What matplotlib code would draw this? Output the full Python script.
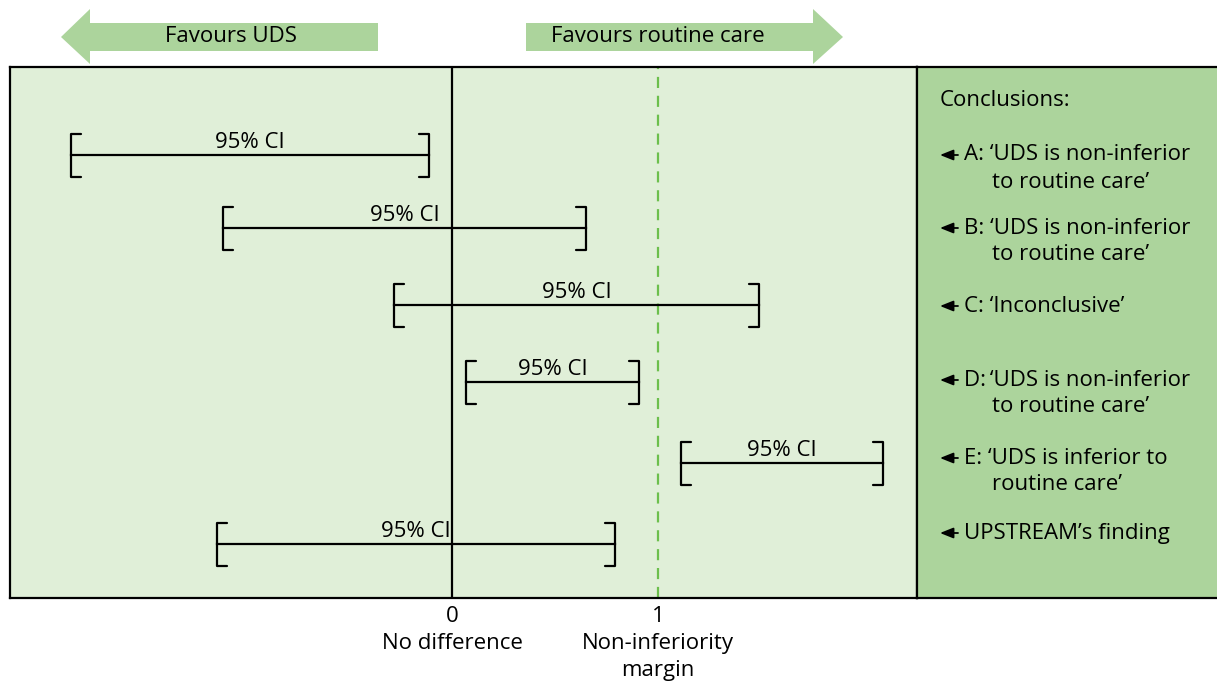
import matplotlib
matplotlib.use("Agg")
import matplotlib.pyplot as plt
from matplotlib.patches import Polygon

plt.rcParams['font.family'] = ['Open Sans', 'DejaVu Sans']

# Confidence intervals (difference UDS - routine care, in units of the margin)
ci_names = ["A", "B", "C", "D", "E", "UPSTREAM"]
ci_lower = [-1.85, -1.11, -0.28, 0.07, 1.11, -1.14]
ci_upper = [-0.11, 0.65, 1.49, 0.91, 2.09, 0.79]
ci_label = "95% CI"

# Conclusions listed beside each interval
conclusion_lines = [
    ["A: \u2018UDS is non-inferior", "to routine care\u2019"],
    ["B: \u2018UDS is non-inferior", "to routine care\u2019"],
    ["C: \u2018Inconclusive\u2019"],
    ["D:\u2009\u2018UDS is non-inferior", "to routine care\u2019"],
    ["E: \u2018UDS is inferior to", "routine care\u2019"],
    ["UPSTREAM\u2019s finding"],
]
tick_values = [0, 1]
tick_texts = ["0\nNo difference", "1\nNon-inferiority\nmargin"]

# Layout (figure pixels from the top)
W, H = 1217, 684
row_y = [155, 228, 305, 382, 463, 544]
concl_y = [155, 228, 306, 380, 458, 533]
panel_top, panel_bot = 67, 598
left_x, div_x = 10, 917
x0_px, x1_px = 452, 658

light = "#e0efd8"
mid = "#acd49c"
dash_green = "#6cbf4c"
fs = 16

fig = plt.figure(figsize=(W / 100, H / 100), dpi=100)

def fig_rect(x_a, x_b, y_top, y_bot):
    return [x_a / W, 1 - y_bot / H, (x_b - x_a) / W, (y_bot - y_top) / H]

ax = fig.add_axes(fig_rect(left_x, div_x, panel_top, panel_bot))
ax.set_facecolor(light)
scale = x1_px - x0_px
ax.set_xlim((left_x - x0_px) / scale, (div_x - x0_px) / scale)
ax.set_ylim(panel_bot, panel_top)
for s in ax.spines.values():
    s.set_linewidth(1.6)
    s.set_color("black")
ax.set_yticks([])
ax.set_xticks(tick_values)
ax.set_xticklabels(tick_texts, fontsize=fs, linespacing=1.38, va="top")
ax.tick_params(axis="x", length=0, pad=6)

ax.axvline(0, color="black", lw=1.6, zorder=2)
ax.axvline(1, color=dash_green, lw=1.6, dashes=(5, 3.5), zorder=2)

half_h = 21.5
serif = 10 / scale
for lo, hi, y in zip(ci_lower, ci_upper, row_y):
    ax.plot([lo, hi], [y, y], color="black", lw=1.6, zorder=3)
    ax.plot([lo + serif, lo, lo, lo + serif],
            [y - half_h, y - half_h, y + half_h, y + half_h],
            color="black", lw=1.6, solid_joinstyle="round",
            solid_capstyle="round", zorder=3)
    ax.plot([hi - serif, hi, hi, hi - serif],
            [y - half_h, y - half_h, y + half_h, y + half_h],
            color="black", lw=1.6, solid_joinstyle="round",
            solid_capstyle="round", zorder=3)
    ax.text((lo + hi) / 2, y - 7, ci_label, ha="center", va="baseline",
            fontsize=fs, zorder=4)

# Conclusions panel
axr = fig.add_axes(fig_rect(div_x, W, panel_top, panel_bot))
axr.set_facecolor(mid)
axr.set_xlim(div_x, W)
axr.set_ylim(panel_bot, panel_top)
axr.set_xticks([])
axr.set_yticks([])
axr.spines["right"].set_visible(False)
for k in ["left", "top", "bottom"]:
    axr.spines[k].set_linewidth(1.6)
axr.text(940, 101, "Conclusions:", fontsize=fs, va="center", ha="left")
for lines, y in zip(conclusion_lines, concl_y):
    axr.annotate("", xy=(940, y), xytext=(958, y),
                 arrowprops=dict(arrowstyle="-|>,head_length=0.8,head_width=0.32",
                                 color="black", lw=1.3, shrinkA=0, shrinkB=0))
    axr.text(964, y, lines[0], fontsize=fs, va="center", ha="left")
    if len(lines) > 1:
        axr.text(992, y + 27, lines[1], fontsize=fs, va="center", ha="left")

# Direction arrows above the panel
top = fig.add_axes([0, 0, 1, 1], zorder=-1)
top.set_xlim(0, W)
top.set_ylim(H, 0)
top.axis("off")
body_t, body_b, head_t, head_b = 23, 51, 9, 64
left_arrow = [(378, body_t), (90, body_t), (90, head_t), (61, 37),
              (90, head_b), (90, body_b), (378, body_b)]
right_arrow = [(526, body_t), (813, body_t), (813, head_t), (843, 37),
               (813, head_b), (813, body_b), (526, body_b)]
for pts in (left_arrow, right_arrow):
    top.add_patch(Polygon(pts, closed=True, facecolor=mid, edgecolor="none"))
top.text(231, 37, "Favours UDS", fontsize=fs, ha="center", va="center")
top.text(658, 37, "Favours routine care", fontsize=fs, ha="center", va="center")

fig.savefig("out.png", dpi=100)
